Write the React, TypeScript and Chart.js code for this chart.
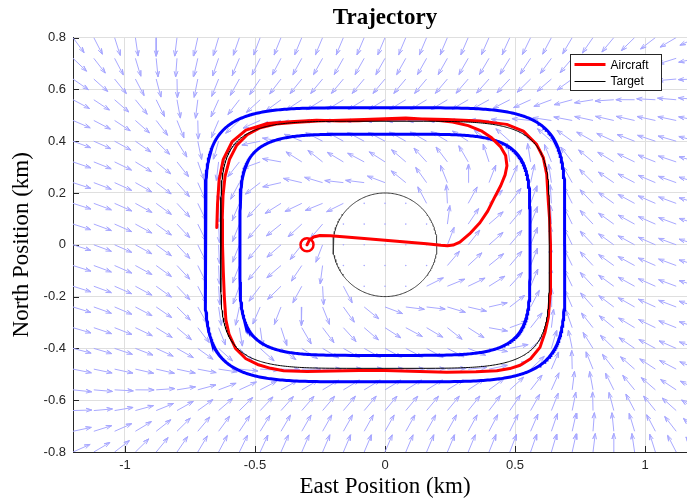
import React, { useEffect, useRef } from "react";
import { Chart, registerables } from "chart.js";

Chart.register(...registerables);

// ---------- data ----------
const xTickValues = [-1, -0.5, 0, 0.5, 1];
const yTickValues = [-0.8, -0.6, -0.4, -0.2, 0, 0.2, 0.4, 0.6, 0.8];
const xRange = [-1.2, 1.2];
const yRange = [-0.8, 0.8];

// quiver grid (km)
const quiverX = [
  -1.2, -1.12, -1.04, -0.96, -0.88, -0.8, -0.72, -0.64, -0.56, -0.48, -0.4,
  -0.32, -0.24, -0.16, -0.08, 0, 0.08, 0.16, 0.24, 0.32, 0.4, 0.48, 0.56,
  0.64, 0.72, 0.8, 0.88, 0.96, 1.04, 1.12, 1.2,
];
const quiverY = [
  -0.8, -0.72, -0.64, -0.56, -0.48, -0.4, -0.32, -0.24, -0.16, -0.08, 0,
  0.08, 0.16, 0.24, 0.32, 0.4, 0.48, 0.56, 0.64, 0.72, 0.8,
];

// superellipse curves: [half width, half height, exponent]
const outerBound = [0.692, 0.529, 5];
const targetPath = [0.632, 0.477, 5];
const innerBound = [0.558, 0.427, 5];
// obstacle circle: [cx, cy, radius]
const obstacle = [0, 0, 0.2];
// start point of the aircraft
const startPoint = [-0.3, 0.0];

// guidance field parameters
const fieldGain = [3.5];
const obstacleInfluence = [0.42];

const aircraftX = [
  -0.3, -0.292, -0.275, -0.25, -0.21, -0.15, -0.08, 0.0, 0.08, 0.16, 0.215,
  0.24, 0.262, 0.288, 0.325, 0.365, 0.395, 0.42, 0.445, 0.462, 0.469, 0.464,
  0.445, 0.41, 0.37, 0.32, 0.26, 0.173, 0.08, 0.0, -0.08, -0.17, -0.26, -0.35,
  -0.42, -0.48, -0.53, -0.57, -0.598, -0.615, -0.623, -0.626, -0.625, -0.622,
  -0.618, -0.612, -0.6, -0.575, -0.535, -0.49, -0.44, -0.39, -0.3, -0.2, -0.1,
  0.0, 0.1, 0.237, 0.35, 0.43, 0.48, 0.52, 0.56, 0.596, 0.615, 0.628, 0.635,
  0.637, 0.636, 0.633, 0.628, 0.622, 0.609, 0.583, 0.532, 0.468, 0.365, 0.237,
  0.109, -0.019, -0.1, -0.173, -0.263, -0.365, -0.455, -0.535, -0.588, -0.622,
  -0.638, -0.644, -0.647,
];
const aircraftY = [
  0.0, 0.016, 0.03, 0.036, 0.035, 0.03, 0.024, 0.018, 0.011, 0.004, -0.002,
  -0.004, -0.001, 0.01, 0.042, 0.085, 0.13, 0.18, 0.228, 0.27, 0.305, 0.345,
  0.378, 0.413, 0.44, 0.46, 0.474, 0.484, 0.49, 0.487, 0.484, 0.481, 0.478,
  0.472, 0.466, 0.452, 0.425, 0.385, 0.33, 0.265, 0.19, 0.1, 0.0, -0.1, -0.2,
  -0.29, -0.345, -0.4, -0.44, -0.462, -0.477, -0.486, -0.489, -0.487, -0.485,
  -0.485, -0.488, -0.492, -0.49, -0.486, -0.478, -0.465, -0.44, -0.396, -0.34,
  -0.28, -0.19, -0.1, 0.0, 0.1, 0.17, 0.272, 0.336, 0.388, 0.439, 0.465, 0.478,
  0.484, 0.487, 0.484, 0.479, 0.478, 0.481, 0.475, 0.468, 0.443, 0.398, 0.33,
  0.25, 0.16, 0.067,
];

// ---------- helpers ----------
type P = { x: number; y: number };

function superellipse(shape: number[], cx = 0, cy = 0, steps = 480): P[] {
  const [a, b, n] = shape;
  const pts: P[] = [];
  for (let i = 0; i <= steps; i++) {
    const t = (i / steps) * Math.PI * 2;
    const c = Math.cos(t);
    const s = Math.sin(t);
    pts.push({
      x: cx + a * Math.sign(c) * Math.pow(Math.abs(c), 2 / n),
      y: cy + b * Math.sign(s) * Math.pow(Math.abs(s), 2 / n),
    });
  }
  return pts;
}

function fieldDir(x: number, y: number): number[] | null {
  const [ocx, ocy, orad] = obstacle;
  const r = Math.hypot(x - ocx, y - ocy);
  if (r < orad) return null;
  const [a, b, n] = targetPath;
  const ux = Math.abs(x) / a;
  const uy = Math.abs(y) / b;
  const phi = Math.pow(Math.pow(ux, n) + Math.pow(uy, n), 1 / n) - 1;
  let gx = (Math.sign(x) * Math.pow(ux, n - 1)) / a;
  let gy = (Math.sign(y) * Math.pow(uy, n - 1)) / b;
  const gl = Math.hypot(gx, gy) || 1;
  gx /= gl;
  gy /= gl;
  const k = fieldGain[0];
  let vx = -gy - k * phi * gx;
  let vy = gx - k * phi * gy;
  let vl = Math.hypot(vx, vy) || 1;
  vx /= vl;
  vy /= vl;
  const R1 = obstacleInfluence[0];
  const w = Math.min(1, Math.max(0, (R1 - r) / (R1 - orad - 0.02)));
  if (w > 0) {
    const ox = (x - ocx) / r;
    const oy = (y - ocy) / r;
    let px = -oy + 0.3 * ox;
    let py = ox + 0.3 * oy;
    const pl = Math.hypot(px, py);
    px /= pl;
    py /= pl;
    vx = (1 - w) * vx + w * px;
    vy = (1 - w) * vy + w * py;
    vl = Math.hypot(vx, vy) || 1;
    vx /= vl;
    vy /= vl;
  }
  return [vx, vy];
}

function buildQuiver() {
  const L = 0.072;
  const HB = 0.3;
  const HW = 0.1;
  const lines: P[] = [];
  const dots: P[] = [];
  for (const y of quiverY) {
    for (const x of quiverX) {
      const v = fieldDir(x, y);
      if (!v) {
        dots.push({ x, y });
        continue;
      }
      const tx = x + L * v[0];
      const ty = y + L * v[1];
      const bx = tx - HB * L * v[0];
      const by = ty - HB * L * v[1];
      const px = -v[1] * HW * L;
      const py = v[0] * HW * L;
      lines.push(
        { x, y },
        { x: tx, y: ty },
        { x: bx + px, y: by + py },
        { x: tx, y: ty },
        { x: bx - px, y: by - py },
        { x: NaN, y: NaN }
      );
    }
  }
  return { lines, dots };
}

const AXIS = "#262626";
const ARROW = "rgb(168,168,255)";
const SERIF = "'Liberation Serif', 'Times New Roman', serif";
const SANS = "'Liberation Sans', Arial, sans-serif";

const inwardTicks = {
  id: "inwardTicks",
  beforeDatasetsDraw(chart: any) {
    const { ctx, chartArea, scales } = chart;
    ctx.save();
    ctx.strokeStyle = AXIS;
    ctx.lineWidth = 1;
    ctx.beginPath();
    for (const v of xTickValues) {
      const px = Math.round(scales.x.getPixelForValue(v)) + 0.5;
      ctx.moveTo(px, chartArea.bottom);
      ctx.lineTo(px, chartArea.bottom - 6);
    }
    for (const v of yTickValues) {
      const py = Math.round(scales.y.getPixelForValue(v)) + 0.5;
      ctx.moveTo(chartArea.left, py);
      ctx.lineTo(chartArea.left + 6, py);
    }
    ctx.stroke();
    ctx.restore();
  },
};

const boxLegend = {
  id: "boxLegend",
  afterDraw(chart: any) {
    const { ctx, chartArea } = chart;
    const items = chart.data.datasets.filter((d: any) => d.inLegend);
    items.sort((a: any, b: any) => a.legendIndex - b.legendIndex);
    const w = 91;
    const h = 36;
    const left = Math.round(chartArea.right - 36 - w) + 0.5;
    const top = Math.round(chartArea.top + 16) + 0.5;
    ctx.save();
    ctx.fillStyle = "#ffffff";
    ctx.fillRect(left, top, w, h);
    ctx.strokeStyle = AXIS;
    ctx.lineWidth = 1;
    ctx.strokeRect(left, top, w, h);
    ctx.font = "12px " + SANS;
    ctx.textBaseline = "middle";
    ctx.textAlign = "left";
    items.forEach((d: any, i: number) => {
      const yc = top + 10 + i * 16.5;
      const ly = d.borderWidth % 2 === 1 ? Math.floor(yc) + 0.5 : Math.round(yc);
      ctx.beginPath();
      ctx.strokeStyle = d.borderColor;
      ctx.lineWidth = d.borderWidth;
      ctx.moveTo(left + 4, ly);
      ctx.lineTo(left + 35, ly);
      ctx.stroke();
      ctx.fillStyle = "#000";
      ctx.fillText(d.label, left + 40, yc + 1);
    });
    ctx.restore();
  },
};

export default function App() {
  const ref = useRef<HTMLCanvasElement>(null);
  useEffect(() => {
    if (!ref.current) return;
    const q = buildQuiver();
    const aircraft = aircraftX.map((x, i) => ({ x, y: aircraftY[i] }));
    const chart = new Chart(ref.current, {
      type: "scatter",
      data: {
        datasets: [
          {
            label: "quiver",
            data: q.lines,
            showLine: true,
            borderColor: ARROW,
            borderWidth: 1,
            pointRadius: 0,
            borderJoinStyle: "round",
            spanGaps: false,
            order: 20,
          } as any,
          {
            label: "quiver0",
            data: q.dots,
            showLine: false,
            pointRadius: 0.8,
            pointBorderWidth: 0,
            pointBackgroundColor: ARROW,
            order: 19,
          },
          {
            label: "obstacle",
            data: superellipse([obstacle[2], obstacle[2], 2], obstacle[0], obstacle[1], 240),
            showLine: true,
            borderColor: "#3a3a3a",
            borderWidth: 1,
            pointRadius: 0,
            order: 18,
          },
          {
            label: "outer",
            data: superellipse(outerBound),
            showLine: true,
            borderColor: "#0000ff",
            borderWidth: 3,
            pointRadius: 0,
            order: 17,
          },
          {
            label: "inner",
            data: superellipse(innerBound),
            showLine: true,
            borderColor: "#0000ff",
            borderWidth: 3,
            pointRadius: 0,
            order: 16,
          },
          {
            label: "Aircraft",
            data: aircraft,
            showLine: true,
            borderColor: "#ff0000",
            borderWidth: 3,
            pointRadius: 0,
            borderJoinStyle: "round",
            borderCapStyle: "round",
            inLegend: true,
            legendIndex: 0,
            order: 15,
          } as any,
          {
            label: "Target",
            data: superellipse(targetPath),
            showLine: true,
            borderColor: "#000000",
            borderWidth: 1,
            pointRadius: 0,
            inLegend: true,
            legendIndex: 1,
            order: 14,
          } as any,
          {
            label: "start",
            data: [{ x: startPoint[0], y: startPoint[1] }],
            showLine: false,
            pointRadius: 6.5,
            pointBorderWidth: 2.5,
            pointBorderColor: "#ff0000",
            pointBackgroundColor: "rgba(0,0,0,0)",
            order: 13,
          },
        ],
      },
      options: {
        responsive: false,
        animation: false,
        events: [],
        layout: { padding: 0, autoPadding: false },
        plugins: {
          legend: { display: false },
          tooltip: { enabled: false },
          title: {
            display: true,
            fullSize: false,
            text: "Trajectory",
            color: "#000",
            font: { family: SERIF, size: 23, weight: "bold" },
            padding: { top: 4, bottom: 6 },
          },
        },
        scales: {
          x: {
            type: "linear",
            min: xRange[0],
            max: xRange[1],
            afterBuildTicks: (s: any) => {
              s.ticks = xTickValues.map((v) => ({ value: v }));
            },
            afterFit: (s: any) => {
              s.height = 49;
            },
            grid: { color: "#dfdfdf", drawTicks: false, lineWidth: 1 },
            border: { display: true, color: AXIS, width: 1 },
            ticks: {
              padding: 6,
              color: AXIS,
              autoSkip: false,
              maxRotation: 0,
              font: { family: SANS, size: 13 },
              callback: (v: any) => String(Math.round(Number(v) * 100) / 100),
            },
            title: {
              display: true,
              text: "East Position (km)",
              color: "#000",
              font: { family: SERIF, size: 23 },
              padding: { top: 0, bottom: 0 },
            },
          },
          y: {
            type: "linear",
            min: yRange[0],
            max: yRange[1],
            afterBuildTicks: (s: any) => {
              s.ticks = yTickValues.map((v) => ({ value: v }));
            },
            afterFit: (s: any) => {
              s.width = 73;
            },
            grid: { color: "#dfdfdf", drawTicks: false, lineWidth: 1 },
            border: { display: true, color: AXIS, width: 1 },
            ticks: {
              padding: 7,
              color: AXIS,
              autoSkip: false,
              font: { family: SANS, size: 13 },
              callback: (v: any) => String(Math.round(Number(v) * 100) / 100),
            },
            title: {
              display: true,
              text: "North Position (km)",
              color: "#000",
              font: { family: SERIF, size: 23 },
              padding: { top: 8, bottom: 0 },
            },
          },
        },
      } as any,
      plugins: [inwardTicks, boxLegend],
    });
    return () => chart.destroy();
  }, []);

  return (
    <div
      style={{
        position: "absolute",
        left: 0,
        top: 0,
        width: 687,
        height: 501,
        overflow: "hidden",
        background: "#fff",
      }}
    >
      <canvas ref={ref} width={697} height={501} style={{ display: "block" }} />
    </div>
  );
}
